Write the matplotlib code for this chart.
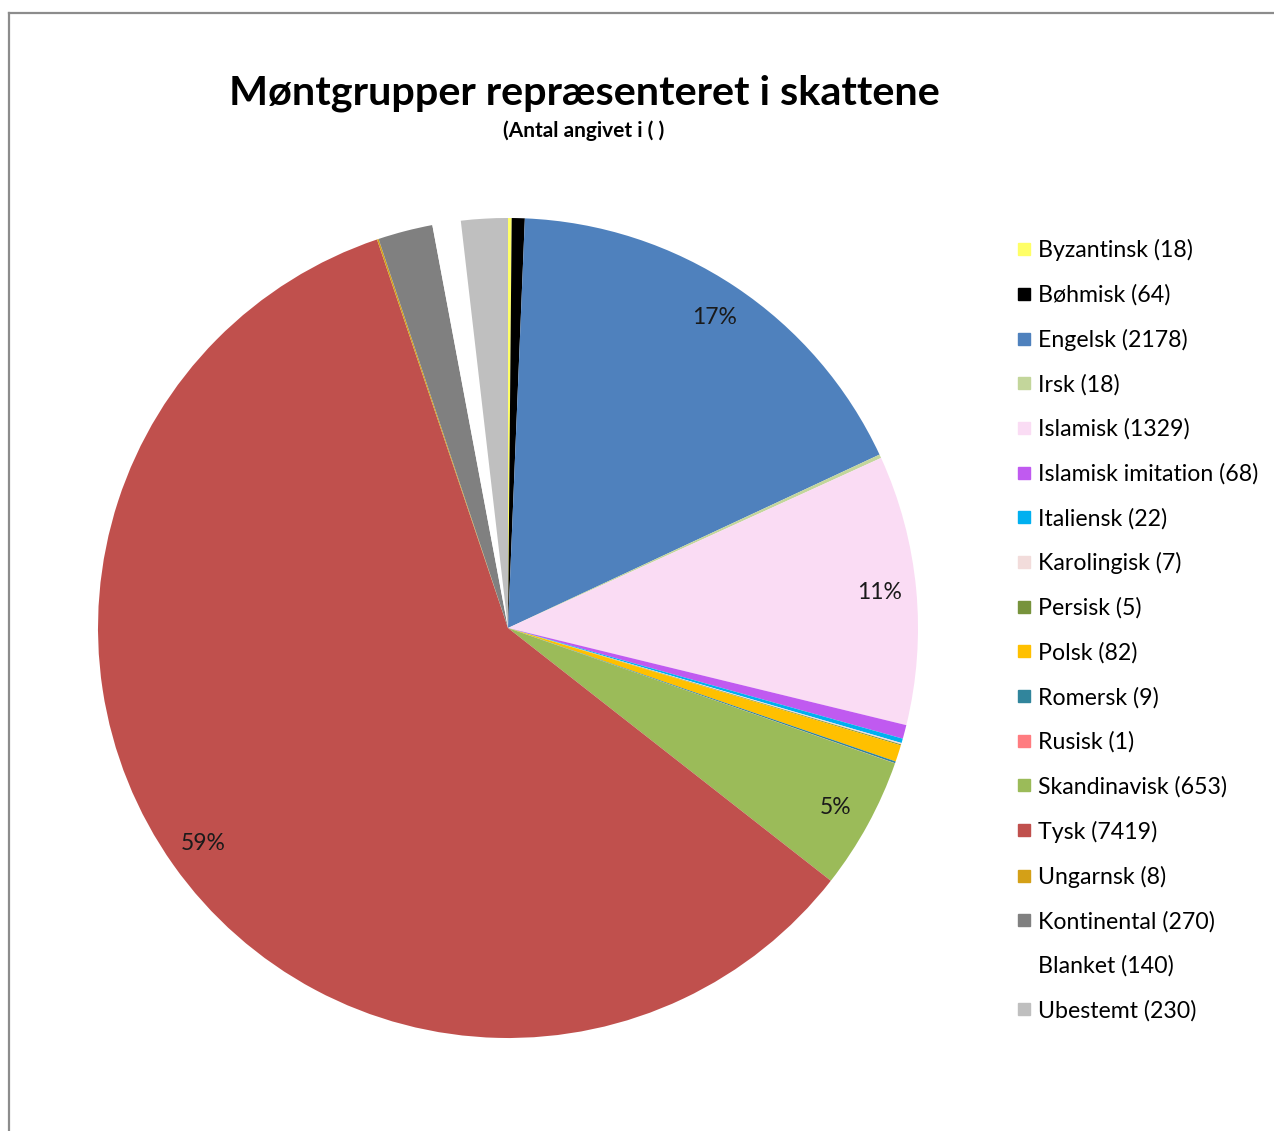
import matplotlib
matplotlib.use("Agg")
import matplotlib.pyplot as plt
from matplotlib.lines import Line2D

plt.rcParams['font.family'] = ['Lato', 'DejaVu Sans']

categories = ["Byzantinsk", "Bøhmisk", "Engelsk", "Irsk", "Islamisk",
              "Islamisk imitation", "Italiensk", "Karolingisk", "Persisk",
              "Polsk", "Romersk", "Rusisk", "Skandinavisk", "Tysk",
              "Ungarnsk", "Kontinental", "Blanket", "Ubestemt"]
counts = [18, 64, 2178, 18, 1329, 68, 22, 7, 5, 82, 9, 1, 653, 7419, 8, 270, 140, 230]
colors = ["#FFFF66", "#000000", "#4F81BD", "#C3D69B", "#FADCF4",
          "#C05AF0", "#00B0F0", "#F2DCDB", "#77933C", "#FFC000",
          "#31859C", "#FF7C80", "#9BBB59", "#C0504D", "#D4A017",
          "#808080", "#FFFFFF", "#BFBFBF"]
legend_labels = [f"{c} ({n})" for c, n in zip(categories, counts)]

W, H = 1274, 1131
fig = plt.figure(figsize=(W / 100, H / 100), dpi=100)

# outer frame (chart area border)
fig.add_artist(Line2D([9 / W, 9 / W], [0, 1 - 13 / H], color="#8c8c8c", lw=1.6))
fig.add_artist(Line2D([9 / W, 1], [1 - 13 / H, 1 - 13 / H], color="#8c8c8c", lw=1.6))

cx, cy, r = 508, 628, 410
ax = fig.add_axes([(cx - r) / W, (H - cy - r) / H, 2 * r / W, 2 * r / H])


def pct(p):
    return f"{p:.0f}%" if p >= 4.5 else ""


wedges, texts, autotexts = ax.pie(
    counts, colors=colors, startangle=90, counterclock=False,
    autopct=pct, pctdistance=0.91, radius=1.0,
    wedgeprops=dict(linewidth=0),
    textprops=dict(fontsize=16.5, color="#1a1a1a"))
ax.set_xlim(-1, 1)
ax.set_ylim(-1, 1)
ax.set_aspect("equal")
ax.axis("off")

fig.text(584 / W, 1 - 93 / H, "Møntgrupper repræsenteret i skattene",
         ha="center", va="center", fontsize=29.8, fontweight="bold")
fig.text(584 / W, 1 - 131 / H, "(Antal angivet i ( )",
         ha="center", va="center", fontsize=15, fontweight="bold")

handles = [Line2D([], [], marker="s", linestyle="none", markersize=9,
                  markerfacecolor=c, markeredgecolor=c) for c in colors]
fig.legend(handles, legend_labels, loc="upper left",
           bbox_to_anchor=(1016 / W, 1 - 239 / H), frameon=False,
           fontsize=16.7, labelspacing=0.995, handlelength=0.65,
           handletextpad=0.3, borderpad=0, borderaxespad=0)

fig.savefig("out.png", dpi=100)
